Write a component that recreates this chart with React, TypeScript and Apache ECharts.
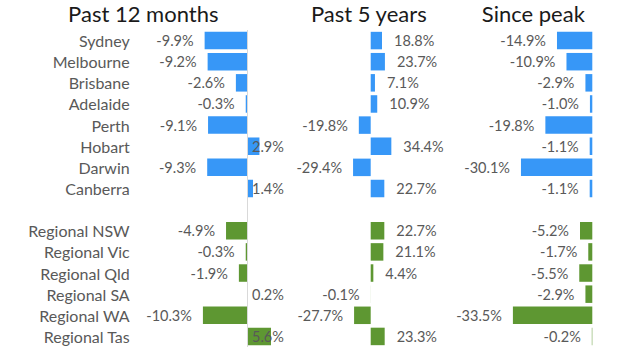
import React, { useEffect, useRef } from "react";
import * as echarts from "echarts";

const cities = ["Sydney", "Melbourne", "Brisbane", "Adelaide", "Perth", "Hobart", "Darwin", "Canberra"];
const regions = ["Regional NSW", "Regional Vic", "Regional Qld", "Regional SA", "Regional WA", "Regional Tas"];
const titles = ["Past 12 months", "Past 5 years", "Since peak"];

const cityPast12 = [-9.9, -9.2, -2.6, -0.3, -9.1, 2.9, -9.3, 1.4];
const regionPast12 = [-4.9, -0.3, -1.9, 0.2, -10.3, 5.6];
const cityPast5 = [18.8, 23.7, 7.1, 10.9, -19.8, 34.4, -29.4, 22.7];
const regionPast5 = [22.7, 21.1, 4.4, -0.1, -27.7, 23.3];
const citySincePeak = [-14.9, -10.9, -2.9, -1.0, -19.8, -1.1, -30.1, -1.1];
const regionSincePeak = [-5.2, -1.7, -5.5, -2.9, -33.5, -0.2];

const BLUE = "#3797F7";
const GREEN = "#5E9732";
const LABEL = "#595959";
const FONT = "Lato";

const categories = [...cities, "", ...regions];

function buildData(cityVals: number[], regionVals: number[], panel: number) {
  const mk = (v: number, color: string) => {
    let position: string;
    let distance: number;
    if (v < 0) {
      position = "left";
      distance = 11;
    } else if (panel === 0) {
      position = "insideLeft";
      distance = 5;
    } else {
      position = "right";
      distance = 12;
    }
    return {
      value: v,
      itemStyle: { color },
      label: { position, distance },
    };
  };
  return [
    ...cityVals.map((v) => mk(v, BLUE)),
    { value: null, label: { show: false } },
    ...regionVals.map((v) => mk(v, GREEN)),
  ];
}

const panels = [
  { city: cityPast12, region: regionPast12, left: 135.7, width: 137, min: -26, max: 6, center: 143.3 },
  { city: cityPast5, region: regionPast5, left: 346.7, width: 54, min: -40, max: 50, center: 368.8 },
  { city: citySincePeak, region: regionSincePeak, left: 509.35, width: 82.95, min: -35, max: 0, center: 533.3 },
];

export default function App() {
  const ref = useRef<HTMLDivElement>(null);
  useEffect(() => {
    if (!ref.current) return;
    const chart = echarts.init(ref.current, null, { renderer: "svg" });
    const top = 30;
    const height = 317;
    chart.setOption({
      animation: false,
      backgroundColor: "#ffffff",
      textStyle: { fontFamily: FONT },
      grid: panels.map((p) => ({ left: p.left, width: p.width, top, height, containLabel: false })),
      xAxis: panels.map((p, i) => ({
        type: "value",
        gridIndex: i,
        min: p.min,
        max: p.max,
        show: false,
      })),
      yAxis: panels.map((p, i) => ({
        type: "category",
        gridIndex: i,
        data: categories,
        inverse: true,
        show: i === 0,
        axisLine: { show: false },
        axisTick: { show: false },
        axisLabel: {
          show: i === 0,
          margin: 6,
          color: LABEL,
          fontFamily: FONT,
          fontSize: 16,
        },
        splitLine: { show: false },
      })),
      series: panels.map((p, i) => ({
        type: "bar",
        xAxisIndex: i,
        yAxisIndex: i,
        barWidth: 17.5,
        data: buildData(p.city, p.region, i),
        label: {
          show: true,
          color: LABEL,
          fontFamily: FONT,
          fontSize: 14.5,
          formatter: (d: any) => (d.value == null ? "" : `${Number(d.value).toFixed(1)}%`),
        },
        markLine:
          i === 0
            ? {
                silent: true,
                symbol: ["none", "none"],
                label: { show: false },
                lineStyle: { color: "#d9d9d9", type: "solid", width: 1 },
                data: [{ xAxis: 0 }],
              }
            : undefined,
      })),
      graphic: panels.map((p, i) => ({
        type: "text",
        x: p.center,
        y: 13.5,
        style: {
          text: titles[i],
          fill: "#1a1a1a",
          font: `22px ${FONT}`,
          textAlign: "center",
          textVerticalAlign: "middle",
        },
      })),
    });
    return () => chart.dispose();
  }, []);
  return (
    <div
      ref={ref}
      style={{ position: "absolute", left: 0, top: 0, width: 620, height: 349 }}
    />
  );
}
